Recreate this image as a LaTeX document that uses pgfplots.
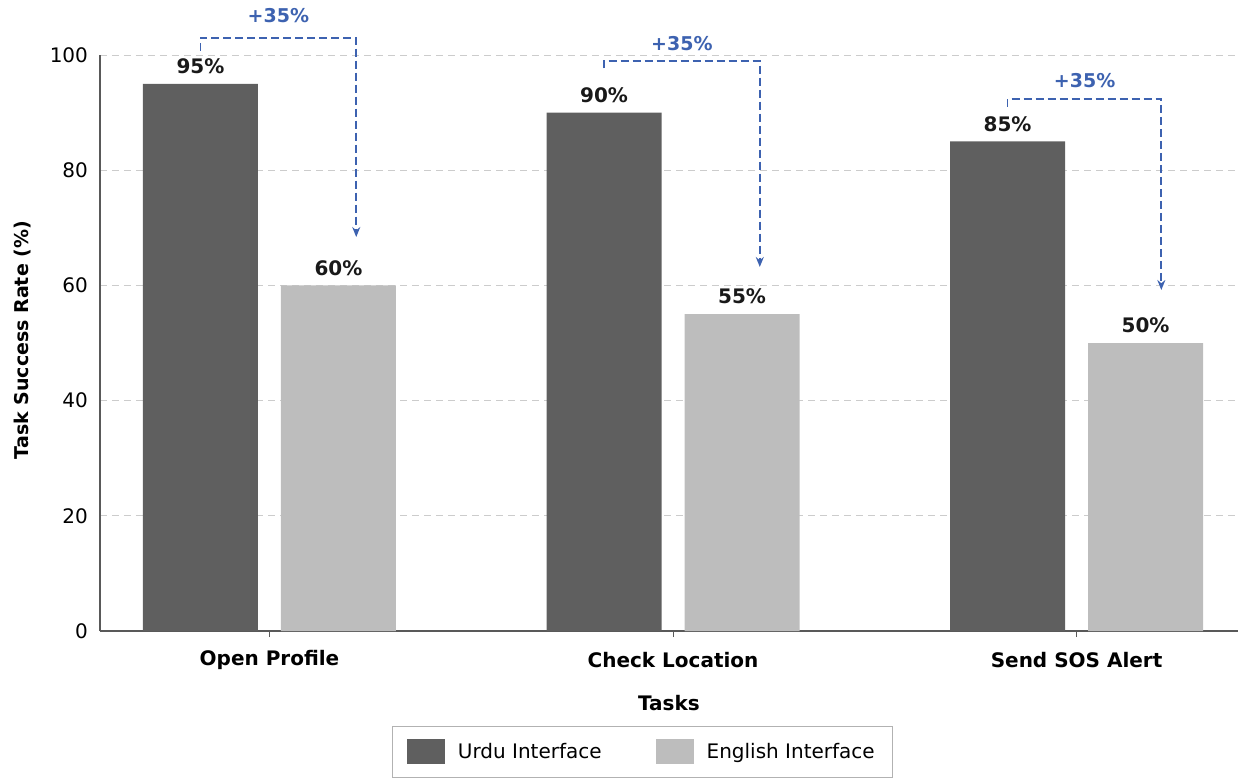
\documentclass[border=0pt]{standalone}
\usepackage{fontspec}
\setmainfont{DejaVu Sans}
\usepackage{pgfplots}
\pgfplotsset{compat=1.18}
\usetikzlibrary{arrows.meta}
\definecolor{urdu}{HTML}{5F5F5F}
\definecolor{eng}{HTML}{BDBDBD}
\definecolor{ann}{HTML}{3D62B0}
\begin{document}
\begin{tikzpicture}[x=1pt,y=1pt]
\path[use as bounding box] (-50,-73.5) rectangle (569,315.5);
\begin{axis}[
 at={(0,0)}, anchor=south west,
 scale only axis, width=569pt, height=288pt,
 xmin=-0.42, xmax=2.40, ymin=0, ymax=100,
 ybar, bar width=57.5pt,
 axis x line*=bottom, axis y line*=left,
 axis line style={draw=black!65, line width=0.7pt, -},
 xtick={0,1,2}, xticklabels={Open Profile, Check Location, Send SOS Alert},
 xticklabel style={font=\fontsize{10}{12}\selectfont\bfseries, anchor=center, yshift=-11.5pt},
 ytick={0,20,...,100},
 yticklabel style={font=\fontsize{10}{12}\selectfont, anchor=east, xshift=-2.5pt},
 /pgf/number format/assume math mode=true,
 major tick length=3pt,
 xtick style={draw=black!65},
 ytick style={draw=none},
 ymajorgrids, grid style={black!20, line width=0.5pt, dash pattern=on 3.5pt off 2.5pt},
 clip=false,
 xlabel={Tasks}, xlabel style={font=\fontsize{10}{12}\selectfont\bfseries, at={(axis description cs:0.5,-0.125)}, anchor=center},
 ylabel={Task Success Rate (\%)}, ylabel style={font=\fontsize{9.5}{11}\selectfont\bfseries, at={(axis description cs:-0.0685,0.505)}, anchor=center},
 nodes near coords={\pgfmathprintnumber{\pgfplotspointmeta}\%},
 every node near coord/.append style={font=\fontsize{10}{12}\selectfont\bfseries, black!90, anchor=south, yshift=1.5pt},
 legend style={at={(axis description cs:0.477,-0.21)}, anchor=center, legend columns=2, draw=black!30, line width=0.5pt,
   font=\fontsize{10}{12}\selectfont, inner xsep=7pt, inner ysep=6pt,
   /tikz/every odd column/.append style={column sep=4.5pt},
   /tikz/every even column/.append style={column sep=25pt}},
 legend image code/.code={\fill[#1] (0pt,-6.25pt) rectangle (19pt,6.25pt);},
]
\addplot[fill=urdu, draw=none, bar shift=-34.5pt] coordinates {(0,95) (1,90) (2,85)};
\addlegendentry{Urdu Interface}
\addplot[fill=eng, draw=none, bar shift=34.5pt] coordinates {(0,60) (1,55) (2,50)};
\addlegendentry{English Interface}

\draw[ann, line width=0.9pt, dash pattern=on 4pt off 2pt, -{Stealth[length=5pt,width=4pt]}] (-0.171,100.7) |- (0.215,103) -- (0.215,68.4);
\node[ann, font=\fontsize{9.5}{11}\selectfont\bfseries] at (0.022,106.8) {+35\%};
\draw[ann, line width=0.9pt, dash pattern=on 4pt off 2pt, -{Stealth[length=5pt,width=4pt]}] (0.829,97.7) |- (1.215,99) -- (1.215,63.2);
\node[ann, font=\fontsize{9.5}{11}\selectfont\bfseries] at (1.022,102) {+35\%};
\draw[ann, line width=0.9pt, dash pattern=on 4pt off 2pt, -{Stealth[length=5pt,width=4pt]}] (1.829,91) |- (2.210,92.4) -- (2.210,59.2);
\node[ann, font=\fontsize{9.5}{11}\selectfont\bfseries] at (2.02,95.5) {+35\%};
\end{axis}
\end{tikzpicture}
\end{document}
